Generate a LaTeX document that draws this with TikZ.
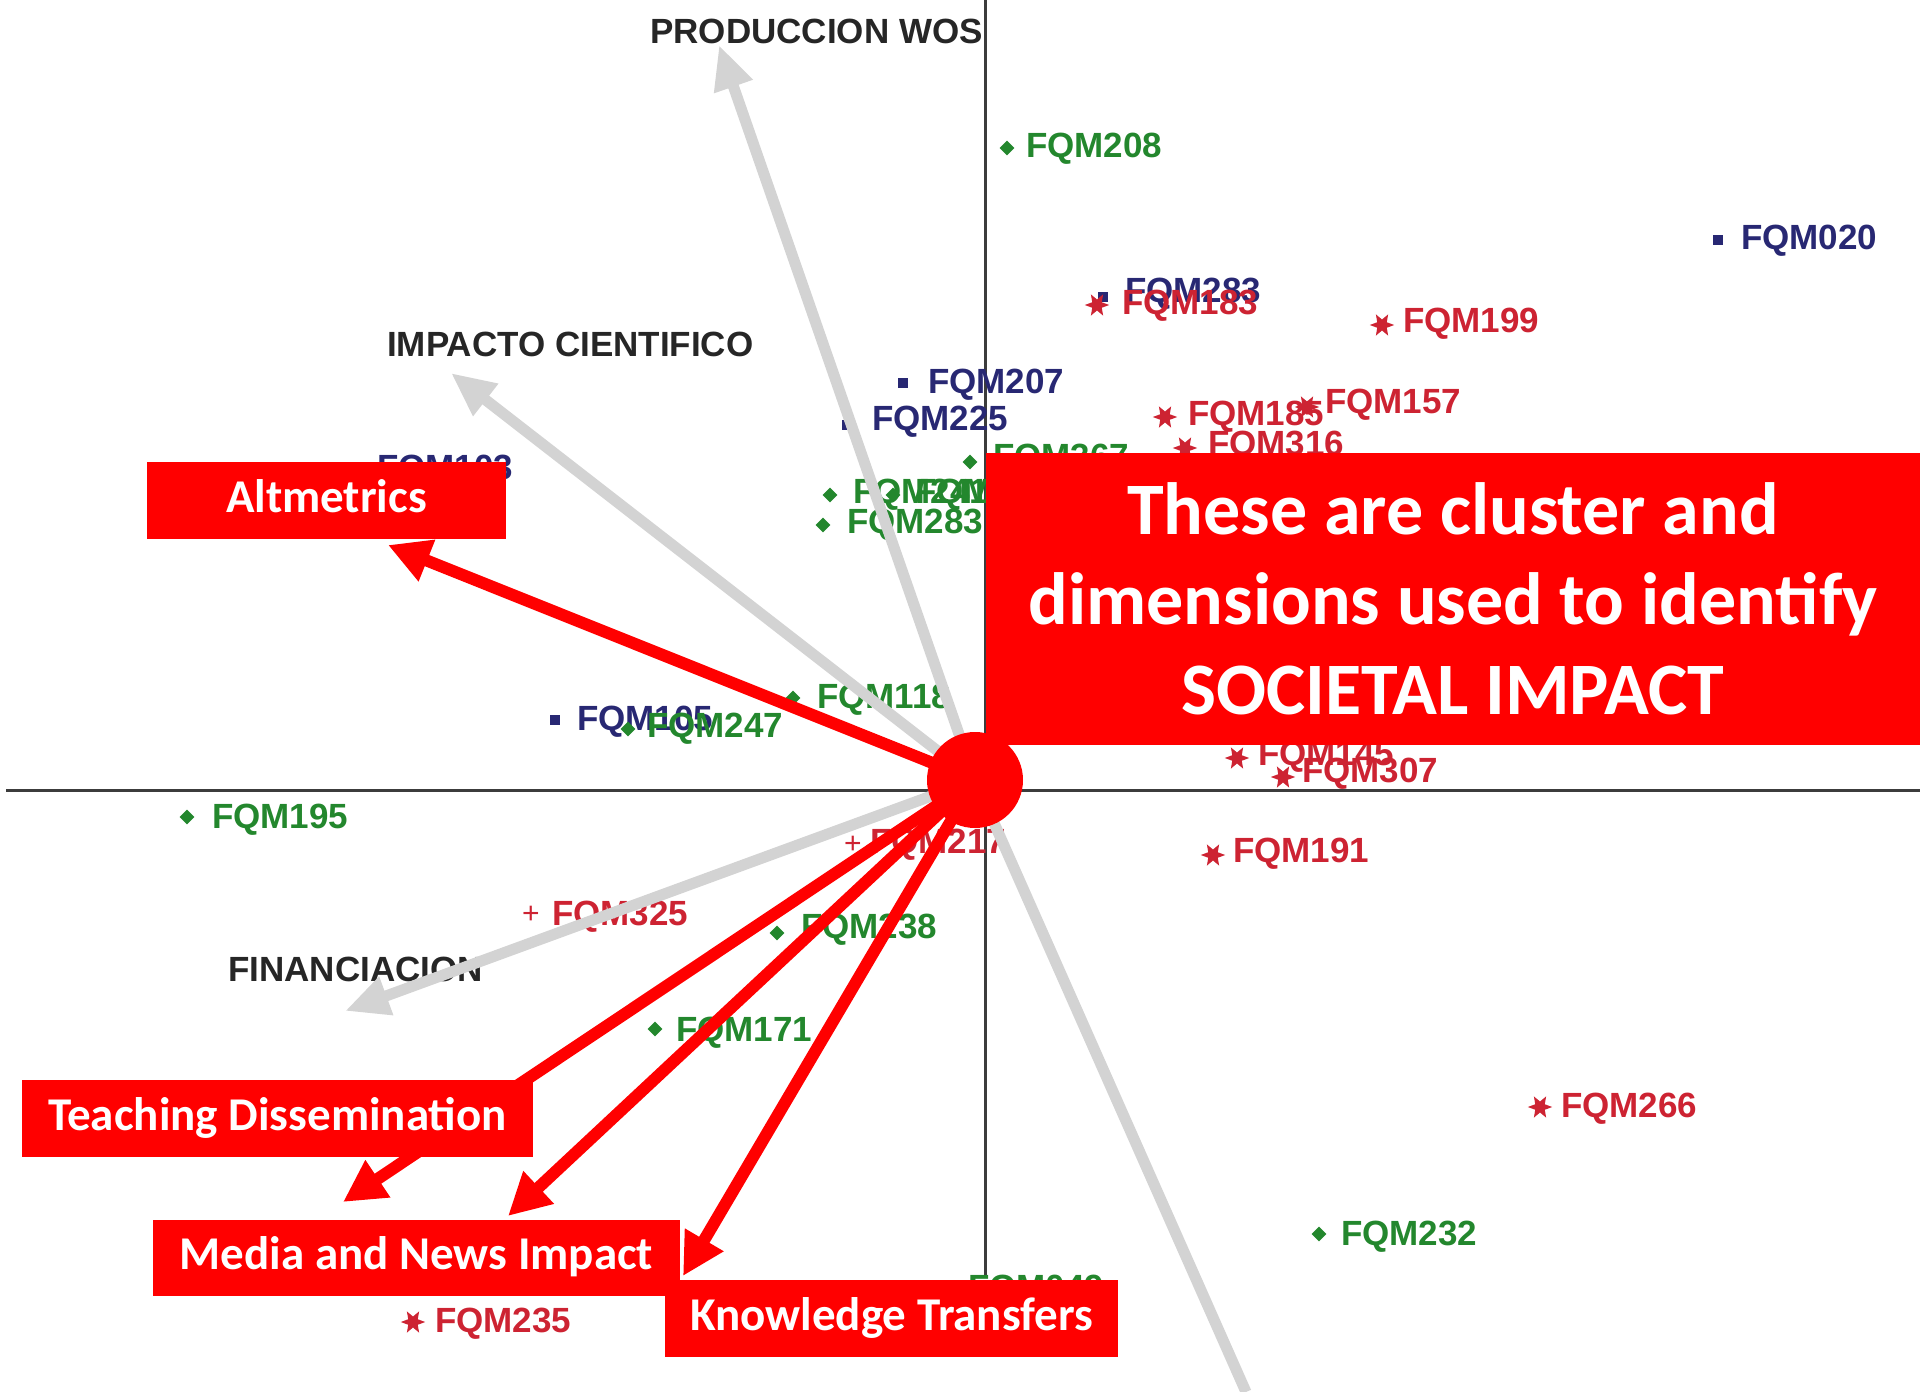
\documentclass[tikz,border=0pt]{standalone}
\usepackage{fontspec}
\setmainfont{Liberation Sans}
\newfontfamily\calib{Carlito}
\usetikzlibrary{arrows.meta,shapes.geometric}
\definecolor{ptgreen}{RGB}{35,135,45}
\definecolor{ptnavy}{RGB}{40,40,115}
\definecolor{ptred}{RGB}{205,35,50}
\definecolor{hired}{RGB}{255,0,0}
\definecolor{garrowc}{RGB}{211,211,211}
\definecolor{axisc}{RGB}{60,60,60}
\begin{document}
\begin{tikzpicture}[x=1pt,y=-1pt,
 lab/.style={anchor=base west, inner sep=0pt, font=\fontsize{35}{35}\selectfont\bfseries},
 lbG/.style={lab, text=ptgreen},
 lbN/.style={lab, text=ptnavy},
 lbR/.style={lab, text=ptred},
 mkG/.style={diamond, fill=ptgreen, inner sep=0pt, minimum size=15pt},
 mkN/.style={rectangle, fill=ptnavy, inner sep=0pt, minimum size=10pt},
 mkR/.style={star, star points=6, star point ratio=0.45, fill=ptred, inner sep=0pt, minimum size=11pt},
 mkP/.style={inner sep=0pt, text=ptred, font=\fontsize{30}{30}\selectfont},
 axlab/.style={anchor=base west, inner sep=0pt, font=\fontsize{35}{35}\selectfont\bfseries, text=black!85},
 axline/.style={draw=axisc, line width=3pt},
 garrow/.style={draw=garrowc, line width=11pt, -{Triangle[length=44pt,width=38pt]}},
 gline/.style={draw=garrowc, line width=11pt},
 rarrow/.style={draw=hired, line width=12pt, -{Triangle[length=42pt,width=42pt]}},
 rbox/.style={fill=hired, text=white, inner sep=0pt, font=\calib\fontsize{47}{47}\selectfont\bfseries, text height=32pt, text depth=9pt},
 bigbox/.style={fill=hired, text=white, inner sep=0pt, align=center, font=\calib\fontsize{74}{90}\selectfont\bfseries, minimum width=934pt, minimum height=292pt},
 hubstyle/.style={circle, fill=hired, inner sep=0pt, minimum size=96pt}
]
\fill[white] (0,0) rectangle (1920,1392);
\useasboundingbox (0,0) rectangle (1920,1392);

% axes
\coordinate (axL) at (6,790);
\coordinate (axR) at (1920,790);
\coordinate (axT) at (985,0);
\coordinate (axB) at (985,1275);
\draw[axline] (axL) -- (axR);
\draw[axline] (axT) -- (axB);

% data points
\node[mkG] (m208) at (1007,148) {}; \node[lbG] (t208) at (1026,157) {FQM208};
\node[mkN] (m020) at (1718,240) {}; \node[lbN] (t020) at (1741,249) {FQM020};
\node[mkN] (m283n) at (1103,297) {}; \node[lbN] (t283n) at (1125,302) {FQM283};
\node[mkR] (m183) at (1097,305) {}; \node[lbR] (t183) at (1122,314) {FQM183};
\node[mkR] (m199) at (1382,325) {}; \node[lbR] (t199) at (1403,332) {FQM199};
\node[mkN] (m207) at (903,383) {}; \node[lbN] (t207) at (928,393) {FQM207};
\node[mkN] (m225) at (847,425) {}; \node[lbN] (t225) at (872,430) {FQM225};
\node[mkG] (m367) at (970,462) {}; \node[lbG] (t367) at (993,468) {FQM367};
\node[mkG] (m241) at (830,495) {}; \node[lbG] (t241) at (853,503) {FQM241};
\node[mkG] (m061) at (893,495) {}; \node[lbG] (t061) at (915,503) {FQM061};
\node[mkG] (m283g) at (823,525) {}; \node[lbG] (t283g) at (847,533) {FQM283};
\node[mkR] (m185) at (1165,417) {}; \node[lbR] (t185) at (1188,425) {FQM185};
\node[mkR] (m157) at (1307,407) {}; \node[lbR] (t157) at (1325,413) {FQM157};
\node[mkR] (m316) at (1185,448) {}; \node[lbR] (t316) at (1208,455) {FQM316};
\node[mkN] (m103) at (353,470) {}; \node[lbN] (t103) at (377,479) {FQM103};
\node[mkG] (m118) at (793,698) {}; \node[lbG] (t118) at (817,708) {FQM118};
\node[mkN] (m105) at (555,720) {}; \node[lbN] (t105) at (577,730) {FQM105};
\node[mkG] (m247) at (628,729) {}; \node[lbG] (t247) at (647,737) {FQM247};
\node[mkG] (m195) at (187,817) {}; \node[lbG] (t195) at (212,828) {FQM195};
\node[mkP] (m217) at (853,845) {+}; \node[lbR] (t217) at (870,853) {FQM217};
\node[mkP] (m325) at (531,915) {+}; \node[lbR] (t325) at (552,925) {FQM325};
\node[mkG] (m238) at (777,933) {}; \node[lbG] (t238) at (801,938) {FQM238};
\node[mkG] (m171) at (655,1029) {}; \node[lbG] (t171) at (676,1041) {FQM171};
\node[mkR] (m145) at (1237,758) {}; \node[lbR] (t145) at (1258,765) {FQM145};
\node[mkR] (m307) at (1283,777) {}; \node[lbR] (t307) at (1302,782) {FQM307};
\node[mkR] (m191) at (1213,855) {}; \node[lbR] (t191) at (1233,862) {FQM191};
\node[mkR] (m266) at (1540,1107) {}; \node[lbR] (t266) at (1561,1117) {FQM266};
\node[mkG] (m232) at (1319,1234) {}; \node[lbG] (t232) at (1341,1245) {FQM232};
\node[mkR] (m235) at (413,1322) {}; \node[lbR] (t235) at (435,1332) {FQM235};
\node[mkG] (m049) at (950,1290) {}; \node[lbG] (t049) at (968,1299) {FQM049};

% variable labels
\node[axlab] (prod) at (650,43) {PRODUCCION WOS};
\node[axlab] (impc) at (387,356) {IMPACTO CIENTIFICO};
\node[axlab] (fina) at (228,981) {FINANCIACION};

% hub and tips
\coordinate (hubc) at (975,780);
\coordinate (tipProd) at (719,45);
\coordinate (tipImp) at (451,373);
\coordinate (tipFin) at (345,1011);
\coordinate (endLow) at (1246,1392);
\coordinate (tipAlt) at (388,545);
\coordinate (tipTeach) at (343,1202);
\coordinate (tipMedia) at (508,1216);
\coordinate (tipKnow) at (683,1276);

% gray arrows
\draw[garrow] (hubc) -- (tipProd);
\draw[garrow] (hubc) -- (tipImp);
\draw[garrow] (hubc) -- (tipFin);
\draw[gline] (hubc) -- (endLow);

% red arrows
\draw[rarrow] (hubc) -- (tipAlt);
\draw[rarrow] (hubc) -- (tipTeach);
\draw[rarrow] (hubc) -- (tipMedia);
\draw[rarrow] (hubc) -- (tipKnow);

\node[hubstyle] (hub) at (hubc) {};

% boxes
\node[rbox, minimum width=359pt, minimum height=77pt] (alt) at (326.5,500.5) {Altmetrics};
\node[rbox, minimum width=511pt, minimum height=77pt] (teach) at (277.5,1118.5) {Teaching Dissemination};
\node[rbox, minimum width=453pt, minimum height=77pt] (know) at (891.5,1318.5) {Knowledge Transfers};
\node[rbox, minimum width=527pt, minimum height=76pt] (media) at (416.5,1258) {Media and News Impact};
\node[bigbox] (big) at (1453,599) {These are cluster and\\dimensions used to identify\\SOCIETAL IMPACT};
\end{tikzpicture}
\end{document}
